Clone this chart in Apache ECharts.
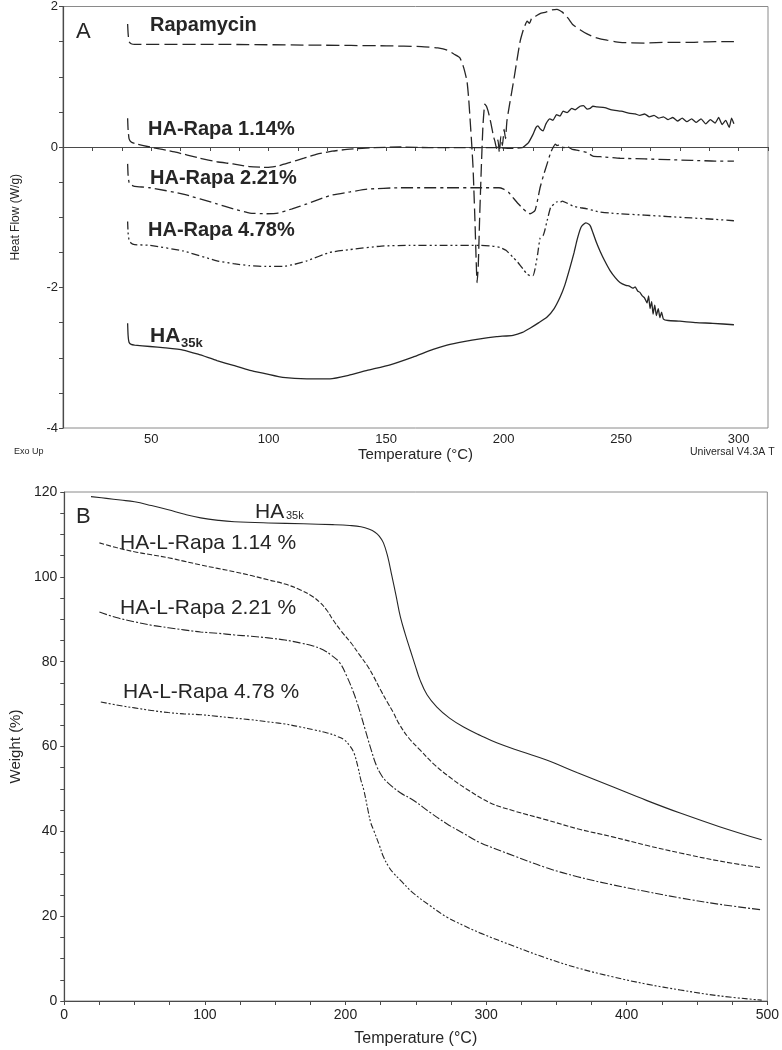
<!DOCTYPE html>
<html><head><meta charset="utf-8">
<script src="https://cdn.jsdelivr.net/npm/echarts@6/dist/echarts.min.js"></script>
<style>html,body{margin:0;padding:0;background:#fff}#c{width:782px;height:1050px}</style>
</head><body><div id="c"></div>
<script>
// ---------- Panel A: DSC heat flow (W/g) vs temperature (°C) ----------
const dscRapamycin = [[40.0,1.75],[40.2,1.62],[40.6,1.50],[41.5,1.47],[43,1.46],[80,1.46],[120,1.45],[150,1.44],[165,1.43],[172,1.41],[176,1.38],[179,1.32],[181.4,1.27],[183,1.13],[184.4,0.94],[185.1,0.70],[185.7,0.41],[186.4,0.05],[187,-0.30],[187.8,-1.05],[188.3,-1.60],[188.7,-1.93],[189.2,-1.70],[189.8,-1.00],[190.5,-0.30],[191.2,0.30],[192,0.61],[192.7,0.58],[193.4,0.51],[194.2,0.40],[195,0.27],[195.7,0.15],[196.3,0.08],[197,-0.02],[197.6,0.10],[198.2,-0.08],[198.8,0.15],[199.5,0.02],[200.2,0.25],[200.8,0.12],[201.4,0.37],[202.5,0.60],[204,0.89],[205.5,1.20],[207,1.50],[208.5,1.68],[210,1.79],[211,1.76],[212,1.84],[213.5,1.86],[215.5,1.90],[218,1.92],[220.5,1.95],[222.7,1.96],[225,1.92],[227.5,1.83],[229.5,1.74],[232.5,1.67],[235.5,1.61],[239,1.56],[244,1.52],[249.5,1.49],[260,1.48],[270,1.49],[280,1.49],[290,1.50],[298,1.50]];
const dscRapa114 = [[40.0,0.41],[40.2,0.25],[40.6,0.12],[41.5,0.07],[43,0.05],[49.5,0.0],[60,-0.07],[70.8,-0.16],[78,-0.21],[84.8,-0.24],[92,-0.28],[99.3,-0.29],[104,-0.27],[109.1,-0.22],[115,-0.16],[120.6,-0.10],[127,-0.06],[134.6,-0.03],[145,-0.01],[155.9,0.0],[170,-0.01],[185,-0.01],[197,-0.01],[204,-0.02],[208,-0.01],[210.5,0.06],[212.5,0.18],[213.8,0.28],[214.6,0.30],[215.5,0.26],[216.8,0.23],[218,0.33],[219.7,0.40],[221,0.38],[222.5,0.46],[224,0.44],[225.3,0.51],[227,0.49],[229,0.55],[230.5,0.53],[232.5,0.58],[234,0.59],[235.5,0.54],[236.8,0.55],[238,0.58],[239.7,0.57],[243,0.56],[246,0.53],[250,0.51],[253.8,0.48],[256,0.47],[258,0.45],[260,0.47],[262,0.43],[264,0.45],[266,0.41],[268,0.43],[270,0.39],[272,0.42],[274,0.37],[276,0.41],[278,0.36],[280,0.40],[282,0.35],[284,0.40],[286,0.33],[288,0.39],[290,0.34],[291.5,0.42],[293,0.32],[294.5,0.38],[296,0.28],[297,0.41],[298,0.33]];
const dscRapa221 = [[40.0,-0.24],[40.2,-0.40],[40.6,-0.50],[41.5,-0.54],[43,-0.56],[49.5,-0.58],[63.6,-0.67],[78,-0.81],[85,-0.88],[92,-0.94],[99,-0.95],[104,-0.94],[110,-0.88],[116.3,-0.81],[126.1,-0.69],[134.6,-0.64],[141.9,-0.60],[155.9,-0.58],[175,-0.58],[190,-0.58],[198,-0.58],[200,-0.60],[202,-0.64],[204,-0.72],[206,-0.80],[208.3,-0.88],[210,-0.93],[211.2,-0.95],[212.5,-0.93],[213.4,-0.90],[214.3,-0.78],[215.5,-0.58],[217,-0.40],[218.5,-0.24],[220,-0.08],[221,-0.01],[222,0.04],[222.7,0.02],[224,0.03],[225.5,-0.01],[227,0.01],[229,-0.03],[232,-0.05],[235.5,-0.08],[238,-0.13],[242,-0.14],[249.5,-0.16],[260,-0.17],[270,-0.18],[280,-0.19],[290,-0.20],[298,-0.20]];
const dscRapa478 = [[40.0,-1.06],[40.2,-1.22],[40.6,-1.32],[41.5,-1.37],[43,-1.39],[49.5,-1.40],[63.6,-1.48],[78,-1.62],[85,-1.66],[92,-1.69],[99,-1.70],[106,-1.70],[111,-1.67],[116.3,-1.62],[126.1,-1.50],[134.6,-1.46],[148,-1.41],[160,-1.40],[175,-1.40],[190,-1.40],[195,-1.41],[198.5,-1.43],[201,-1.47],[204,-1.57],[206,-1.64],[208.3,-1.74],[210,-1.81],[211.2,-1.83],[212.5,-1.83],[213.4,-1.73],[214.5,-1.52],[215.5,-1.30],[216.8,-1.26],[217.5,-1.19],[218.5,-1.05],[220,-0.86],[221.5,-0.81],[222.7,-0.78],[224,-0.79],[225,-0.77],[227,-0.80],[229.5,-0.84],[232,-0.86],[235.5,-0.88],[240,-0.92],[245,-0.94],[249.5,-0.95],[260,-0.97],[270,-0.99],[280,-1.01],[290,-1.03],[298,-1.05]];
const dscHA35k = [[40.0,-2.51],[40.2,-2.68],[40.6,-2.78],[41.5,-2.81],[43,-2.82],[49.5,-2.84],[56,-2.86],[63.6,-2.89],[70,-2.95],[78,-3.04],[85,-3.11],[92,-3.18],[99,-3.23],[106,-3.28],[116.3,-3.30],[126.1,-3.30],[134,-3.25],[141.9,-3.18],[151.7,-3.10],[161.4,-2.99],[170,-2.88],[175.9,-2.82],[183,-2.77],[190,-2.73],[197,-2.70],[204,-2.68],[208,-2.64],[211.2,-2.58],[215,-2.50],[218.5,-2.42],[221.5,-2.30],[224,-2.14],[226,-1.97],[228.2,-1.72],[230,-1.50],[231.2,-1.33],[232.5,-1.18],[233.4,-1.12],[235,-1.08],[236.3,-1.10],[237,-1.13],[238,-1.22],[239.5,-1.36],[241,-1.48],[243,-1.62],[245.3,-1.76],[247.5,-1.86],[249.5,-1.93],[252,-1.97],[253.5,-1.98],[255,-2.01],[256,-1.99],[257,-2.05],[258,-2.07],[259,-2.12],[260,-2.15],[261,-2.22],[261.7,-2.12],[262.3,-2.30],[263,-2.20],[263.6,-2.38],[264.3,-2.25],[265,-2.40],[265.8,-2.30],[266.5,-2.43],[267.2,-2.35],[268,-2.45],[270,-2.47],[275,-2.48],[282,-2.50],[289,-2.51],[298,-2.53]];
const dscNames = ['Rapamycin','HA-Rapa 1.14%','HA-Rapa 2.21%','HA-Rapa 4.78%','HA35k'];
const dscYTicks = [-4,-2,0,2];
const dscXTicks = [50,100,150,200,250,300];
const dsc114SolidFrom = 208; // trace turns from dashed to solid (noisy) here

// ---------- Panel B: TGA weight (%) vs temperature (°C) ----------
const tgaHA35k = [[19,118.9],[30,118.5],[40,118.1],[50,117.7],[62,116.8],[74,115.8],[85,114.8],[97,113.9],[110,113.3],[121,113.0],[145,112.7],[170,112.5],[191,112.3],[203,112.1],[211,111.8],[217,111.2],[221,110.5],[224,109.6],[227,108.0],[230,104.8],[233,100.2],[236,95.5],[239,90.6],[242.5,86.5],[246,82.8],[249.5,79.2],[253,75.7],[258,72.2],[265,69.3],[274,66.7],[284,64.6],[296,62.6],[308,60.8],[325,58.8],[343,56.8],[365,53.8],[390,50.5],[414,47.3],[438,44.3],[466,41.1],[496,38.0]];
const tgaRapa114 = [[25,108],[37,106.9],[50,105.9],[62,105.2],[74,104.5],[85,103.7],[97,102.8],[109,102.0],[121,101.2],[133,100.3],[145,99.3],[157,98.3],[168,96.9],[176,95.5],[182,93.9],[187,92.0],[191,89.9],[197,87.2],[204,84.4],[210,81.6],[216,78.8],[220,76.5],[225,73.3],[230,70.3],[234,68.0],[238,65.4],[245,62.0],[253,59.2],[263,55.8],[274,52.8],[286,50.0],[303,46.7],[320,44.8],[343,42.7],[365,40.6],[390,38.7],[414,36.7],[438,34.9],[466,33.0],[496,31.4]];
const tgaRapa221 = [[25,91.7],[37,90.4],[50,89.4],[62,88.6],[74,88.0],[85,87.5],[97,87.0],[109,86.7],[121,86.3],[133,86.0],[145,85.6],[157,85.1],[168,84.4],[177,83.7],[184,82.8],[190,81.5],[196,79.7],[201,76.5],[206,72.5],[210,68.5],[214,64.0],[218,59.5],[222,55.5],[226,53.0],[230,51.5],[239,49.1],[248,47.4],[260,44.5],[272,41.8],[284,39.5],[296,37.3],[320,34.2],[343,31.4],[365,29.3],[390,27.4],[414,25.8],[438,24.3],[466,22.8],[496,21.5]];
const tgaRapa478 = [[26,70.5],[37,69.8],[50,69.1],[62,68.5],[74,68.0],[85,67.7],[97,67.5],[109,67.1],[121,66.7],[133,66.3],[145,65.8],[157,65.3],[168,64.6],[178,63.9],[187,63.2],[194,62.4],[199,61.6],[203,60.2],[206,58.5],[209,55.0],[211,52.0],[213,49.8],[216,45.0],[218,42.0],[220,40.3],[224,36.8],[227,34.0],[231,31.5],[234,30.2],[239,28.5],[248,25.5],[260,22.5],[272,19.8],[284,17.8],[296,16.0],[320,12.9],[343,10.1],[365,7.8],[390,5.7],[414,4.0],[438,2.6],[466,1.2],[496,0.2]];
const tgaNames = ['HA35k','HA-L-Rapa 1.14 %','HA-L-Rapa 2.21 %','HA-L-Rapa 4.78 %'];
const tgaYTicks = [0,20,40,60,80,100,120];
const tgaXTicks = [0,100,200,300,400,500];

const FF = '"Liberation Sans", Arial, sans-serif';
const INK = '#262626';
const chart = echarts.init(document.getElementById('c'), null, {renderer:'canvas'});

function line(name, data, idx, dash, w, sm){
  return {name, type:'line', data, xAxisIndex:idx, yAxisIndex:idx, showSymbol:false, symbol:'none',
    smooth:sm, silent:true, lineStyle:{color:INK, width:w, type:dash}};
}
function axisCommon(){
  return {
    axisLine:{show:true, lineStyle:{color:'#4a4a4a', width:1.2}},
    axisTick:{show:true, inside:false, length:4, lineStyle:{color:'#4a4a4a'}},
    splitLine:{show:false}
  };
}
function txt(x,y,text,size,weight){
  return {type:'text', x, y, silent:true, z:10,
    style:{text, fontSize:size, fontWeight:weight||'normal', fontFamily:FF, fill:INK, verticalAlign:'middle', align:'left'}};
}
const dsc114Dashed = dscRapa114.filter(p => p[0] <= dsc114SolidFrom);
const dsc114Solid = dscRapa114.filter(p => p[0] >= dsc114SolidFrom);

const option = {
  animation:false,
  backgroundColor:'#fff',
  grid:[
    {left:63, top:5, width:705, height:423, show:true, borderColor:'#8a8a8a', borderWidth:1},
    {left:63, top:492, width:705, height:509, show:true, borderColor:'#8a8a8a', borderWidth:1}
  ],
  xAxis:[
    Object.assign(axisCommon(), {type:'value', gridIndex:0, min:12.5, max:312.5, interval:12.5,
      name:'Temperature (°C)', nameLocation:'middle', nameGap:18,
      nameTextStyle:{fontSize:15, color:INK, fontFamily:FF},
      axisLabel:{color:'#222', fontFamily:FF, fontSize:13, margin:5,
        formatter:v=> dscXTicks.includes(v) ? String(v) : ''}}),
    Object.assign(axisCommon(), {type:'value', gridIndex:1, min:0, max:500, interval:25,
      name:'Temperature (°C)', nameLocation:'middle', nameGap:30,
      nameTextStyle:{fontSize:16, color:INK, fontFamily:FF},
      axisLabel:{color:'#222', fontFamily:FF, fontSize:14, margin:7,
        formatter:v=> tgaXTicks.includes(v) ? String(v) : ''}})
  ],
  yAxis:[
    Object.assign(axisCommon(), {type:'value', gridIndex:0, min:-4, max:2, interval:0.5,
      name:'Heat Flow (W/g)', nameLocation:'middle', nameGap:41,
      nameTextStyle:{fontSize:12, color:INK, fontFamily:FF},
      axisLabel:{color:'#222', fontFamily:FF, fontSize:13, margin:5,
        formatter:v=> dscYTicks.includes(v) ? String(v) : ''}}),
    Object.assign(axisCommon(), {type:'value', gridIndex:1, min:0, max:120, interval:5,
      name:'Weight (%)', nameLocation:'middle', nameGap:41,
      nameTextStyle:{fontSize:15, color:INK, fontFamily:FF},
      axisLabel:{color:'#222', fontFamily:FF, fontSize:14, margin:7,
        formatter:v=> tgaYTicks.includes(v) ? String(v) : ''}})
  ],
  series:[
    line(dscNames[0], dscRapamycin, 0, [13,5], 1.3, 0.15),
    line(dscNames[1], dsc114Dashed, 0, [12,4], 1.3, 0.15),
    line(dscNames[1], dsc114Solid, 0, 'solid', 1.3, 0.15),
    line(dscNames[2], dscRapa221, 0, [12,4,3,4], 1.3, 0.15),
    line(dscNames[3], dscRapa478, 0, [8,3,2,3,2,3], 1.3, 0.15),
    line(dscNames[4], dscHA35k, 0, 'solid', 1.3, 0.15),
    line(tgaNames[0], tgaHA35k, 1, 'solid', 1.1, 0.4),
    line(tgaNames[1], tgaRapa114, 1, [5,2], 1.1, 0.4),
    line(tgaNames[2], tgaRapa221, 1, [8,2,2,2], 1.1, 0.4),
    line(tgaNames[3], tgaRapa478, 1, [6,2,2,2,2,2], 1.1, 0.4)
  ],
  graphic:[
    txt(76, 32, 'A', 22, 'normal'),
    txt(150, 25, dscNames[0], 20, 'bold'),
    txt(148, 129, dscNames[1], 20, 'bold'),
    txt(150, 178, dscNames[2], 20, 'bold'),
    txt(148, 230, dscNames[3], 20, 'bold'),
    txt(150, 336, 'HA', 21, 'bold'),
    txt(181, 343, '35k', 13, 'bold'),
    txt(14, 452, 'Exo Up', 9, 'normal'),
    txt(690, 452, 'Universal V4.3A T', 10.5, 'normal'),
    txt(76, 517, 'B', 22, 'normal'),
    txt(255, 512, 'HA', 21, 'normal'),
    txt(286, 516, '35k', 11, 'normal'),
    txt(120, 543, tgaNames[1], 21, 'normal'),
    txt(120, 608, tgaNames[2], 21, 'normal'),
    txt(123, 692, tgaNames[3], 21, 'normal')
  ]
};
chart.setOption(option);
</script></body></html>
